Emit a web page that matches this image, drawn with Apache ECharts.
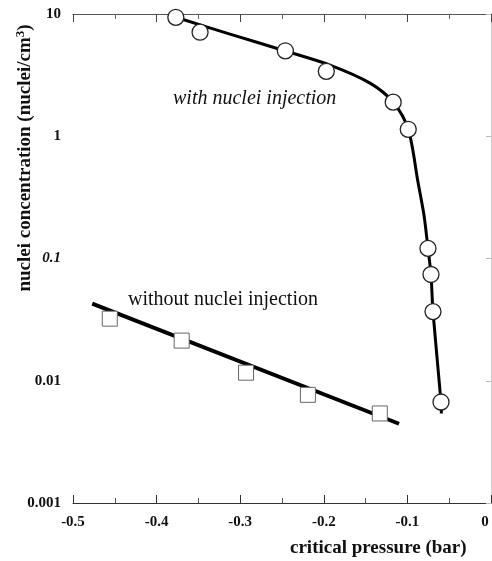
<!DOCTYPE html>
<html><head><meta charset="utf-8">
<script src="https://cdn.jsdelivr.net/npm/echarts@6/dist/echarts.min.js"></script>
<style>html,body{margin:0;padding:0;background:#fff}#c{width:492px;height:561px}</style>
</head><body><div id="c"></div>
<script>
// with nuclei injection: measured points (pressure, concentration)
const withX = [-0.377, -0.348, -0.246, -0.197, -0.117, -0.099, -0.0754, -0.0718, -0.0694, -0.0598];
const withY = [9.4, 7.1, 5.0, 3.4, 1.9, 1.14, 0.121, 0.074, 0.0368, 0.0067];
// fitted curve through them
const curveX = [-0.377, -0.3122, -0.246, -0.1926, -0.1447, -0.117, -0.099, -0.0873, -0.0801, -0.0754, -0.0718, -0.0694, -0.0598, -0.0594];
const curveY = [9.4, 6.85, 4.98, 3.82, 2.72, 1.9, 1.14, 0.42, 0.225, 0.121, 0.074, 0.0368, 0.0067, 0.0054];
// without nuclei injection
const withoutX = [-0.456, -0.370, -0.293, -0.219, -0.133];
const withoutY = [0.0322, 0.0213, 0.01164, 0.00767, 0.0054];
const fitX = [-0.477, -0.110];
const fitY = [0.0428, 0.00445];
const xTicks = [-0.5, -0.4, -0.3, -0.2, -0.1, 0];
const yTicks = [0.001, 0.01, 0.1, 1, 10];

const zip = (a, b) => a.map((v, i) => [v, b[i]]);
const serif = '"Liberation Serif", "DejaVu Serif", serif';
const chart = echarts.init(document.getElementById('c'));
const L = 73, T = 14, W = 418, H = 489;
chart.setOption({
  animation: false,
  backgroundColor: '#fff',
  grid: {left: L, top: T, width: W, height: H, containLabel: false, outerBoundsMode: 'none'},
  xAxis: [{
    type: 'value', min: -0.5, max: 0, interval: 0.1, position: 'bottom',
    axisLine: {lineStyle: {color: '#333', width: 1}},
    axisTick: {inside: true, length: 8, lineStyle: {color: '#333'}},
    minorTick: {show: true, splitNumber: 2, length: 5, lineStyle: {color: '#555'}},
    splitLine: {show: false},
    axisLabel: {margin: 12, fontFamily: serif, fontSize: 15, fontWeight: 'bold', color: '#111',
      formatter: v => xTicks.some(t => Math.abs(t - v) < 1e-9) ? (Math.abs(v) < 1e-9 ? '{z|0}' : String(+v.toFixed(1))) : '',
      rich: {z: {fontFamily: serif, fontSize: 15, fontWeight: 'bold', color: '#111', padding: [0, 12, 0, 0]}}}
  }, {
    type: 'value', min: -0.5, max: 0, interval: 0.1, position: 'top',
    axisLine: {lineStyle: {color: '#555', width: 1}},
    axisTick: {inside: true, length: 8, lineStyle: {color: '#444'}},
    minorTick: {show: true, splitNumber: 2, length: 5, lineStyle: {color: '#666'}},
    splitLine: {show: false}, axisLabel: {show: false}
  }],
  yAxis: [{
    type: 'log', min: 0.001, max: 10, logBase: 10, position: 'left',
    axisLine: {lineStyle: {color: '#ccc', width: 1, type: 'dotted'}},
    axisTick: {show: false},
    splitLine: {show: false},
    axisLabel: {margin: 12, fontFamily: serif, fontSize: 15, fontWeight: 'bold', color: '#111',
      formatter: v => { const s = v >= 1 ? String(Math.round(v)) : String(+v.toPrecision(1)); return s === '0.1' ? '{i|0.1}' : s; },
      rich: {i: {fontFamily: serif, fontSize: 15, fontWeight: 'bold', fontStyle: 'italic', color: '#111'}}}
  }, {
    type: 'log', min: 0.001, max: 10, logBase: 10, position: 'right',
    axisLine: {lineStyle: {color: '#ccc', width: 1, type: 'dotted'}},
    axisTick: {inside: true, length: 5, lineStyle: {color: '#bbb'}},
    splitLine: {show: false}, axisLabel: {show: false}
  }],
  series: [
    {type: 'line', data: zip(curveX, curveY), smooth: 0.3, showSymbol: false, symbol: 'none',
      lineStyle: {color: '#000', width: 3}, z: 2},
    {type: 'line', data: zip(fitX, fitY), showSymbol: false, symbol: 'none',
      lineStyle: {color: '#000', width: 4}, z: 2},
    {type: 'scatter', data: zip(withX, withY), symbol: 'circle', symbolSize: 16,
      itemStyle: {color: '#fff', opacity: 1, borderColor: '#222', borderWidth: 1.3}, z: 3},
    {type: 'scatter', data: zip(withoutX, withoutY), symbol: 'rect', symbolSize: 15,
      itemStyle: {color: '#fff', opacity: 1, borderColor: '#666', borderWidth: 1}, z: 3}
  ],
  graphic: [
    {type: 'text', x: 173, y: 99, style: {text: 'with nuclei injection', font: 'italic 20px ' + serif, fill: '#111', verticalAlign: 'middle'}},
    {type: 'text', x: 128, y: 300, style: {text: 'without nuclei injection', font: '20px ' + serif, fill: '#111', verticalAlign: 'middle'}},
    {type: 'text', x: 290, y: 548, style: {text: 'critical pressure (bar)', font: 'bold 19px ' + serif, fill: '#111', verticalAlign: 'middle'}},
    {type: 'text', x: 25, y: 158, rotation: Math.PI / 2,
      style: {text: 'nuclei concentration (nuclei/cm{s|3})', align: 'center', verticalAlign: 'middle',
        font: 'bold 19px ' + serif, fill: '#111',
        rich: {s: {fontSize: 13, fontWeight: 'bold', fontFamily: serif, verticalAlign: 'top', padding: [0, 0, 9, 0]}}}}
  ]
});
</script></body></html>
